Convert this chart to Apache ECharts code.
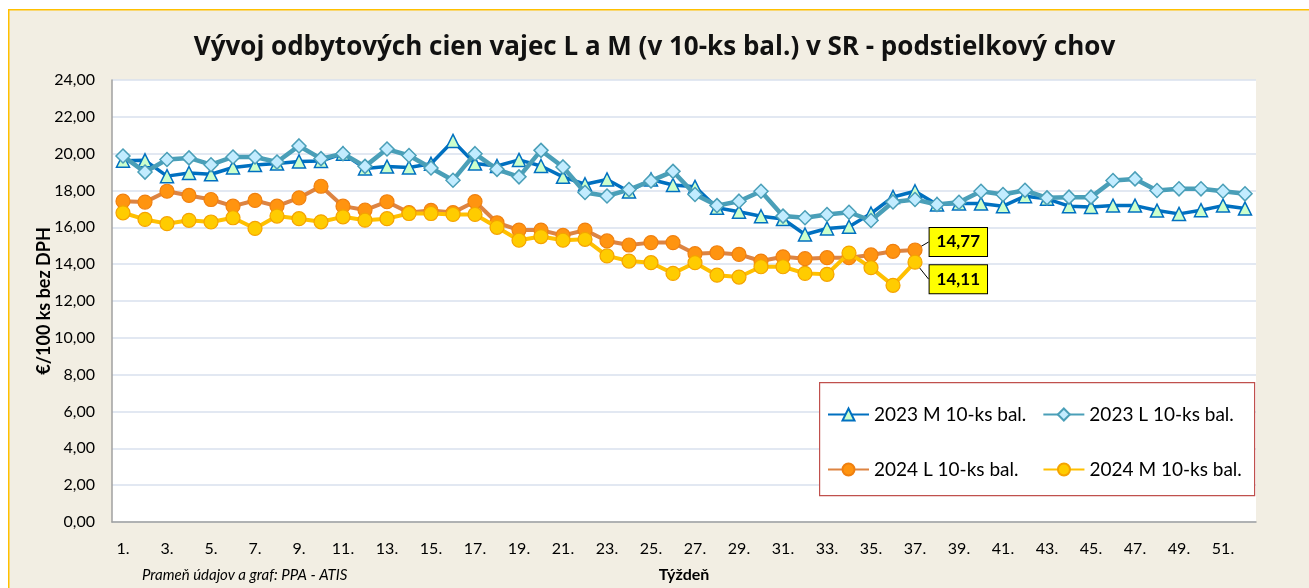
<!DOCTYPE html>
<html>
<head>
<meta charset="utf-8">
<script src="https://cdn.jsdelivr.net/npm/echarts@6/dist/echarts.min.js"></script>
<style>
html,body{margin:0;padding:0;background:#ffffff;}
#chart{width:1309px;height:588px;}
</style>
</head>
<body>
<div id="chart"></div>
<script>
const weeks = ["1.","2.","3.","4.","5.","6.","7.","8.","9.","10.","11.","12.","13.","14.","15.","16.","17.","18.","19.","20.","21.","22.","23.","24.","25.","26.","27.","28.","29.","30.","31.","32.","33.","34.","35.","36.","37.","38.","39.","40.","41.","42.","43.","44.","45.","46.","47.","48.","49.","50.","51.","52."];

const m2023 = [19.62,19.64,18.78,18.95,18.88,19.25,19.38,19.46,19.58,19.6,20.0,19.2,19.3,19.25,19.45,20.69,19.46,19.33,19.66,19.33,18.74,18.34,18.6,17.95,18.6,18.3,18.2,17.06,16.85,16.6,16.45,15.61,15.94,16.03,16.75,17.65,17.96,17.24,17.3,17.29,17.15,17.69,17.55,17.15,17.11,17.18,17.18,16.91,16.73,16.93,17.18,17.02];

const l2023 = [19.87,19.0,19.68,19.77,19.4,19.82,19.82,19.55,20.42,19.73,20.0,19.31,20.25,19.9,19.22,18.56,20.0,19.15,18.74,20.18,19.28,17.89,17.7,18.05,18.52,19.04,17.78,17.18,17.42,17.96,16.61,16.52,16.7,16.82,16.37,17.38,17.51,17.24,17.36,17.96,17.78,18.01,17.6,17.64,17.64,18.54,18.63,18.0,18.09,18.09,17.96,17.82];

const l2024 = [17.42,17.37,17.96,17.73,17.51,17.15,17.46,17.15,17.6,18.23,17.15,16.94,17.39,16.8,16.92,16.8,17.4,16.25,15.85,15.85,15.56,15.85,15.26,15.04,15.17,15.17,14.57,14.62,14.53,14.17,14.4,14.3,14.35,14.35,14.5,14.7,14.77];

const m2024 = [16.79,16.43,16.2,16.38,16.29,16.52,15.94,16.61,16.47,16.3,16.57,16.39,16.47,16.75,16.75,16.7,16.7,16.0,15.3,15.5,15.3,15.35,14.45,14.17,14.08,13.5,14.08,13.4,13.3,13.86,13.86,13.5,13.45,14.6,13.81,12.85,14.11];

const seriesNames = ["2023 M 10-ks bal.","2023 L 10-ks bal.","2024 L 10-ks bal.","2024 M 10-ks bal."];

const FONT = "Lato";
const fmt = v => v.toFixed(2).replace('.', ',');

function withLastLabel(arr) {
  return arr.map((v, i) => {
    if (i !== arr.length - 1) return v;
    return {
      value: v,
      label: {
        show: true,
        position: 'right',
        distance: 6,
        formatter: p => fmt(p.value),
        backgroundColor: '#FFFF00',
        borderColor: '#000000',
        borderWidth: 1,
        padding: [6, 7, 5, 7],
        color: '#000000',
        fontFamily: FONT,
        fontWeight: 'bold',
        fontSize: 17
      },
      labelLine: { show: true, lineStyle: { color: '#000000', width: 1 } }
    };
  });
}

const chart = echarts.init(document.getElementById('chart'), null, {renderer: 'canvas'});

const option = {
  backgroundColor: '#ffffff',
  animation: false,
  graphic: [
    {
      type: 'rect', left: 8, top: 9, z: -100,
      shape: { width: 1320, height: 600 },
      style: { fill: '#F2EEE3', stroke: '#FFC000', lineWidth: 1.5 }
    },
    {
      type: 'rect', left: 819, top: 382, z: 50,
      shape: { width: 435, height: 113 },
      style: { fill: '#ffffff', stroke: '#C0504D', lineWidth: 1.2 }
    }
  ],
  title: [
    {
      text: 'Vývoj odbytových cien vajec L a M (v 10-ks bal.) v SR - podstielkový chov',
      left: 'center', top: 30,
      textStyle: { fontFamily: 'Open Sans', fontWeight: 'bold', fontSize: 26, color: '#111111' }
    },
    {
      text: 'Prameň údajov a graf: PPA - ATIS',
      left: 137, top: 563,
      textStyle: { fontFamily: FONT, fontStyle: 'italic', fontWeight: 'normal', fontSize: 15, color: '#000000' }
    }
  ],
  legend: [
    {
      data: [seriesNames[0], seriesNames[1]],
      left: 822, top: 400, z: 60,
      itemWidth: 41, itemHeight: 15, itemGap: 16,
      textStyle: { fontFamily: FONT, fontSize: 19, color: '#000000' }
    },
    {
      data: [seriesNames[2], seriesNames[3]],
      left: 822, top: 455, z: 60,
      itemWidth: 41, itemHeight: 15, itemGap: 24,
      textStyle: { fontFamily: FONT, fontSize: 19, color: '#000000' }
    }
  ],
  grid: {
    left: 112, top: 80, right: 53, bottom: 65,
    show: true, backgroundColor: '#ffffff', borderWidth: 0
  },
  xAxis: {
    type: 'category',
    data: weeks,
    boundaryGap: true,
    name: 'Týždeň',
    nameLocation: 'middle',
    nameGap: 45,
    nameMoveOverlap: false,
    nameTextStyle: { fontFamily: FONT, fontWeight: 'bold', fontSize: 16, color: '#000000' },
    axisLine: { show: true, lineStyle: { color: '#A0A0A0', width: 1.5 } },
    axisTick: { show: false },
    axisLabel: { interval: 1, margin: 19, fontFamily: FONT, fontSize: 16, color: '#000000' },
    splitLine: { show: false }
  },
  yAxis: {
    type: 'value',
    min: 0, max: 24, interval: 2,
    name: '€/100 ks bez DPH',
    nameLocation: 'middle',
    nameGap: 59,
    nameMoveOverlap: false,
    nameTextStyle: { fontFamily: FONT, fontWeight: 'bold', fontSize: 18, color: '#000000' },
    axisLine: { show: true, lineStyle: { color: '#A0A0A0', width: 1.5 } },
    axisTick: { show: false },
    axisLabel: { margin: 17, fontFamily: FONT, fontSize: 16, color: '#000000', formatter: v => fmt(v) },
    splitLine: { show: true, lineStyle: { color: '#D9E1EE', width: 1.5 } }
  },
  series: [
    {
      name: seriesNames[0], type: 'line', data: m2023,
      showAllSymbol: true, symbol: 'triangle', symbolSize: 13,
      lineStyle: { color: '#0070C0', width: 3.5 },
      itemStyle: { color: '#CCFFCC', borderColor: '#0070C0', borderWidth: 1.5 },
      z: 2
    },
    {
      name: seriesNames[1], type: 'line', data: l2023,
      showAllSymbol: true, symbol: 'diamond', symbolSize: 14,
      lineStyle: { color: '#4A9FB8', width: 4.5 },
      itemStyle: { color: '#C2ECFF', borderColor: '#4A9FB8', borderWidth: 1.5 },
      z: 3
    },
    {
      name: seriesNames[2], type: 'line', data: withLastLabel(l2024),
      showAllSymbol: true, symbol: 'circle', symbolSize: 14,
      lineStyle: { color: '#DD8442', width: 4 },
      itemStyle: { color: '#FF9410', borderColor: '#F08010', borderWidth: 1.2 },
      labelLayout: { dx: 1, dy: -8 },
      z: 4
    },
    {
      name: seriesNames[3], type: 'line', data: withLastLabel(m2024),
      showAllSymbol: true, symbol: 'circle', symbolSize: 14,
      lineStyle: { color: '#FFC000', width: 4 },
      itemStyle: { color: '#FFCC00', borderColor: '#F5A300', borderWidth: 1.2 },
      labelLayout: { dx: 1, dy: 17 },
      z: 5
    }
  ]
};
chart.setOption(option);
</script>
</body>
</html>
